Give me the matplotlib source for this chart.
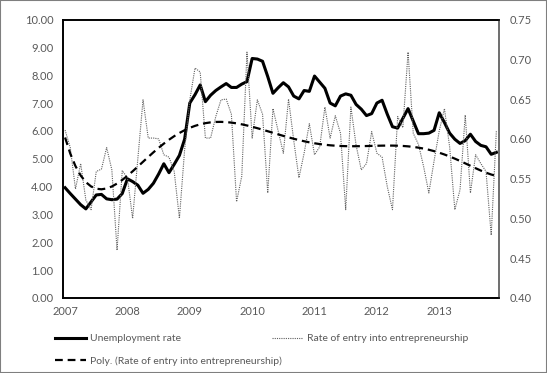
import numpy as np
import matplotlib.pyplot as plt
from matplotlib.patches import Rectangle

plt.rcParams['font.family'] = ['Lato', 'DejaVu Sans']

# monthly series, Jan 2007 .. Dec 2013
years = ['2007', '2008', '2009', '2010', '2011', '2012', '2013']
unemployment = [
    3.96, 3.75, 3.55, 3.35, 3.20, 3.45, 3.70, 3.72, 3.56, 3.53, 3.55, 3.75,
    4.28, 4.18, 4.05, 3.76, 3.90, 4.12, 4.45, 4.82, 4.50, 4.80, 5.12, 5.70,
    7.00, 7.30, 7.65, 7.05, 7.28, 7.45, 7.58, 7.70, 7.56, 7.56, 7.68, 7.77,
    8.60, 8.58, 8.50, 7.95, 7.35, 7.55, 7.73, 7.58, 7.25, 7.15, 7.45, 7.42,
    7.97, 7.75, 7.53, 7.00, 6.90, 7.25, 7.33, 7.28, 6.95, 6.78, 6.55, 6.62,
    7.00, 7.10, 6.60, 6.15, 6.10, 6.45, 6.80, 6.35, 5.90, 5.90, 5.92, 6.02,
    6.65, 6.30, 5.92, 5.70, 5.55, 5.65, 5.88, 5.62, 5.48, 5.43, 5.16, 5.23,
]
entry_rate = [
    0.611, 0.589, 0.537, 0.569, 0.523, 0.511, 0.559, 0.562, 0.589, 0.561, 0.460, 0.560,
    0.551, 0.500, 0.575, 0.649, 0.601, 0.601, 0.600, 0.580, 0.577, 0.559, 0.500, 0.586,
    0.649, 0.689, 0.684, 0.601, 0.601, 0.628, 0.649, 0.650, 0.631, 0.521, 0.553, 0.709,
    0.601, 0.649, 0.631, 0.532, 0.638, 0.610, 0.582, 0.650, 0.598, 0.551, 0.582, 0.619,
    0.580, 0.590, 0.640, 0.601, 0.629, 0.607, 0.511, 0.640, 0.592, 0.561, 0.569, 0.609,
    0.582, 0.577, 0.540, 0.511, 0.628, 0.614, 0.709, 0.607, 0.593, 0.565, 0.532, 0.572,
    0.610, 0.638, 0.590, 0.511, 0.536, 0.630, 0.532, 0.580, 0.569, 0.559, 0.479, 0.611,
]

months = np.arange(len(unemployment))
# Excel-style polynomial trendline (order 6) of the entry rate
coef = np.polyfit(months / len(months), entry_rate, 6)
trend = np.polyval(coef, months / len(months))

TICK_COLOR = '#595959'

fig = plt.figure(figsize=(5.47, 3.73), dpi=100)
fig.patches.append(Rectangle((0, 0), 1, 1, transform=fig.transFigure, fill=False,
                             edgecolor='#7f7f7f', linewidth=1.5))

ax = fig.add_axes([63 / 547, 75 / 373, 436 / 547, 278.5 / 373])
ax2 = ax.twinx()

l1, = ax.plot(months, unemployment, color='black', linewidth=2.2, zorder=3,
              label='Unemployment rate')
l2, = ax2.plot(months, entry_rate, color='#606060', linewidth=0.8,
               linestyle=(0, (1, 1)), label='Rate of entry into entrepreneurship')
l3, = ax2.plot(months, trend, color='black', linewidth=1.6,
               linestyle=(0, (3.5, 2.2)),
               label='Poly. (Rate of entry into entrepreneurship)')

ax.set_xlim(-0.4, 83.5)
ax.set_ylim(0, 10)
ax2.set_ylim(0.40, 0.75)
ax.set_yticks(np.arange(0, 10.5, 1))
ax.set_yticklabels([f'{v:.2f}' for v in np.arange(0, 10.5, 1)])
ax2.set_yticks(np.arange(0.40, 0.76, 0.05))
ax2.set_yticklabels([f'{v:.2f}' for v in np.arange(0.40, 0.76, 0.05)])
ax.set_xticks(np.arange(0, 84, 12))
ax.set_xticklabels(years)

ax.tick_params(axis='y', length=0, pad=7, labelsize=8, labelcolor=TICK_COLOR)
ax.tick_params(axis='x', length=0, pad=6, labelsize=8, labelcolor=TICK_COLOR)
ax2.tick_params(axis='y', length=0, pad=8, labelsize=8, labelcolor=TICK_COLOR)

for a in (ax, ax2):
    for s in a.spines.values():
        s.set_color('black')
        s.set_linewidth(1.2)
ax2.spines['right'].set_color('#808080')

leg_kw = dict(loc='upper left', frameon=False, fontsize=7.5, labelcolor=TICK_COLOR,
              handlelength=3.0, handletextpad=0.3, labelspacing=1.25, borderaxespad=0)
leg1 = fig.legend(handles=[l1, l3], bbox_to_anchor=(51 / 547, 1 - 330 / 373), **leg_kw)
fig.legend(handles=[l2], bbox_to_anchor=(268 / 547, 1 - 330 / 373), **leg_kw)

fig.savefig('out.png', dpi=100)
